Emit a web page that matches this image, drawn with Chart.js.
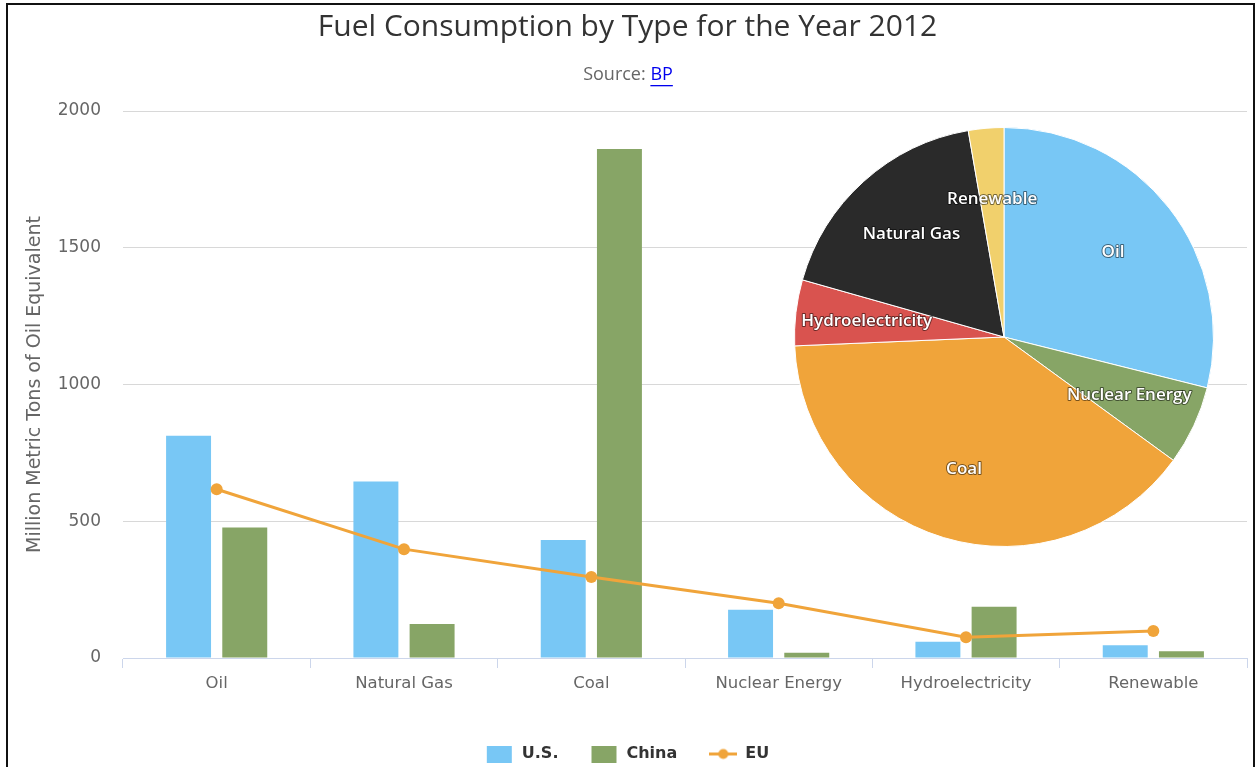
<!DOCTYPE html>
<html>
<head>
<meta charset="utf-8">
<script src="https://cdn.jsdelivr.net/npm/chart.js@4"></script>
<style>
    body { margin: 0; overflow: hidden; background: #fff; }
    #frame { position: absolute; left: 6px; top: 3px; width: 1249px; height: 800px;
             border: 2px solid #111; border-bottom: none; box-sizing: border-box; }
    #main { position: absolute; left: 0; top: 0; }
    #pie { position: absolute; left: 794px; top: 127px; }
</style>
</head>
<body>
<div id="frame"></div>
<canvas id="main" width="1257" height="800"></canvas>
<canvas id="pie" width="420" height="420"></canvas>
<script>
const categories = ['Oil', 'Natural Gas', 'Coal', 'Nuclear Energy', 'Hydroelectricity', 'Renewable'];
const usValues = [813, 645, 431, 176, 59, 47];
const chinaValues = [477, 124, 1861, 19, 187, 25];
const euValues = [617, 398, 296, 200, 76, 99];
const yTicks = [0, 500, 1000, 1500, 2000];

// pie slices, clockwise from the top
const pieLabels = ['Oil', 'Nuclear Energy', 'Coal', 'Hydroelectricity', 'Natural Gas', 'Renewable'];
const pieValues = [1915, 405, 2604, 336, 1184, 181];

const BLUE = '#78c7f5', GREEN = '#87a566', ORANGE = '#f0a43a';
const pieColors = [BLUE, GREEN, ORANGE, '#d9534f', '#2a2a2a', '#f1d06c'];
const AXIS_FONT = 'DejaVu Sans';

function legendIcon(kind, color) {
    let c = document.createElement('canvas');
    c.width = 28; c.height = 17;
    let g = c.getContext('2d');
    g.fillStyle = color;
    g.strokeStyle = color;
    if (kind === 'box') {
        g.fillRect(1, 0, 25, 17);
    } else {
        g.lineWidth = 3;
        g.beginPath(); g.moveTo(0, 8.5); g.lineTo(28, 8.5); g.stroke();
        g.beginPath(); g.arc(14, 8.5, 5, 0, Math.PI * 2); g.fill();
    }
    return c;
}
const icons = [legendIcon('box', BLUE), legendIcon('box', GREEN), legendIcon('line', ORANGE)];

const subtitlePlugin = {
    id: 'sourceLine',
    afterDraw(chart) {
        let ctx = chart.ctx;
        ctx.save();
        ctx.font = '18px "Open Sans"';
        ctx.textBaseline = 'middle';
        let a = 'Source: ', b = 'BP';
        let wa = ctx.measureText(a).width, wb = ctx.measureText(b).width;
        let x = 628 - (wa + wb) / 2, y = 75;
        ctx.fillStyle = '#666';
        ctx.fillText(a, x, y);
        ctx.fillStyle = '#0000ee';
        ctx.fillText(b, x + wa, y);
        ctx.fillRect(x + wa, y + 10, wb, 1.3);
        ctx.restore();
    }
};

new Chart(document.getElementById('main'), {
    data: {
        labels: categories,
        datasets: [
            { type: 'bar', label: 'U.S.', data: usValues, backgroundColor: BLUE, order: 1,
              categoryPercentage: 0.6, barPercentage: 0.8 },
            { type: 'bar', label: 'China', data: chinaValues, backgroundColor: GREEN, order: 1,
              categoryPercentage: 0.6, barPercentage: 0.8 },
            { type: 'line', label: 'EU', data: euValues, borderColor: ORANGE, backgroundColor: ORANGE,
              borderWidth: 3, pointRadius: 6, pointBackgroundColor: ORANGE, pointBorderWidth: 0, order: 0 }
        ]
    },
    options: {
        responsive: false,
        animation: false,
        layout: { padding: { left: 8, right: 10, top: 0, bottom: 28 } },
        scales: {
            x: {
                grid: { display: true, drawOnChartArea: false, drawTicks: true, tickLength: 10, color: '#ccd6eb' },
                border: { color: '#ccd6eb', width: 1 },
                ticks: { color: '#666', font: { family: AXIS_FONT, size: 16.5 }, padding: 6 },
                afterFit: s => { s.height = 56; }
            },
            y: {
                min: 0, max: 2000,
                afterBuildTicks: s => { s.ticks = yTicks.map(v => ({ value: v })); },
                grid: { color: '#d8d8d8', drawTicks: false },
                border: { display: false },
                ticks: { color: '#666', font: { family: AXIS_FONT, size: 17 }, padding: 22,
                         callback: v => String(v) },
                title: { display: true, text: 'Million Metric Tons of Oil Equivalent', color: '#666',
                         font: { family: AXIS_FONT, size: 19 }, padding: { top: 16, bottom: 0 } },
                afterFit: s => { s.width = 115; }
            }
        },
        plugins: {
            title: { display: true, text: 'Fuel Consumption by Type for the Year 2012', color: '#333',
                     font: { family: 'Open Sans', size: 30, weight: 'normal' }, padding: { top: 9, bottom: 66 } },
            legend: {
                position: 'bottom',
                labels: {
                    usePointStyle: true, pointStyleWidth: 28, boxHeight: 16, padding: 32,
                    color: '#333', font: { family: AXIS_FONT, size: 16, weight: 'bold' },
                    sort: (a, b) => a.datasetIndex - b.datasetIndex,
                    generateLabels: chart => chart.data.datasets.map((ds, i) => ({
                        text: ds.label, datasetIndex: i, pointStyle: icons[i],
                        fillStyle: ds.backgroundColor, strokeStyle: ds.backgroundColor,
                        lineWidth: 0, hidden: false, fontColor: '#333'
                    }))
                }
            },
            tooltip: { enabled: false }
        }
    },
    plugins: [subtitlePlugin]
});

const pieLabelPlugin = {
    id: 'sliceLabels',
    afterDatasetsDraw(chart) {
        let ctx = chart.ctx;
        let arcs = chart.getDatasetMeta(0).data;
        ctx.save();
        ctx.font = '600 17px "Open Sans"';
        ctx.textAlign = 'center';
        ctx.textBaseline = 'middle';
        ctx.lineJoin = 'round';
        arcs.forEach((arc, i) => {
            let p = arc.getProps(['x', 'y', 'startAngle', 'endAngle', 'outerRadius'], true);
            let mid = (p.startAngle + p.endAngle) / 2;
            let r = p.outerRadius * 0.66;
            let x = p.x + Math.cos(mid) * r, y = p.y + Math.sin(mid) * r;
            ctx.strokeStyle = 'rgba(0,0,0,0.5)';
            ctx.lineWidth = 2;
            ctx.strokeText(pieLabels[i], x, y);
            ctx.fillStyle = '#fff';
            ctx.fillText(pieLabels[i], x, y);
        });
        ctx.restore();
    }
};

new Chart(document.getElementById('pie'), {
    type: 'pie',
    data: {
        labels: pieLabels,
        datasets: [{ data: pieValues, backgroundColor: pieColors, borderColor: '#fff', borderWidth: 1 }]
    },
    options: {
        responsive: false,
        animation: false,
        plugins: { legend: { display: false }, tooltip: { enabled: false } }
    },
    plugins: [pieLabelPlugin]
});
</script>
</body>
</html>
